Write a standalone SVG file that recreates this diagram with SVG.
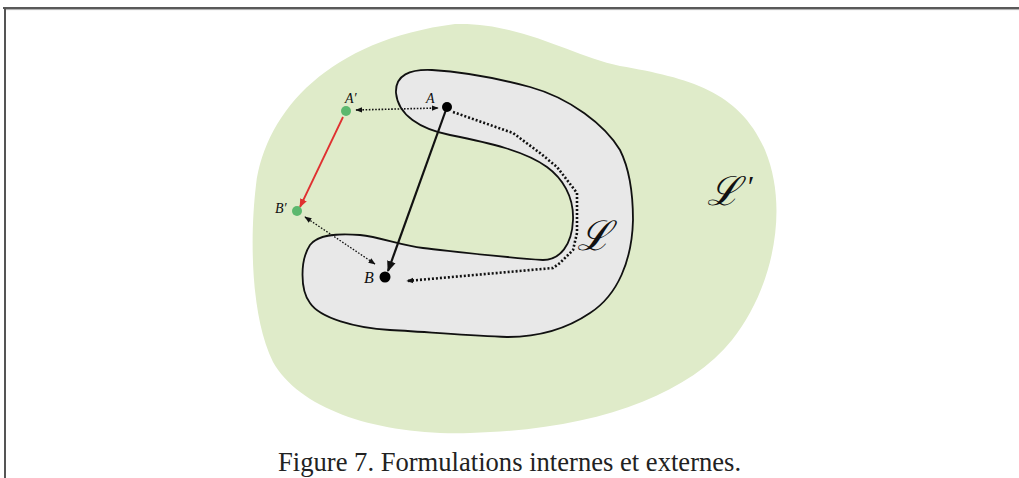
<svg xmlns="http://www.w3.org/2000/svg" width="1019" height="478" viewBox="0 0 1019 478">
<style>
.lbl{font-family:"Liberation Serif","Times New Roman",serif;font-style:italic;fill:#111}
.scr{font-family:"DejaVu Serif",serif;font-style:italic;fill:#111}
.cap{font-family:"Liberation Serif","Times New Roman",serif;fill:#222;font-size:26.6px}
.dot{stroke:#111;fill:none;stroke-dasharray:1.6 1.6}
</style>
<defs>
<marker id="ah" viewBox="0 0 10 10" refX="9" refY="5" markerWidth="7" markerHeight="7" orient="auto-start-reverse" markerUnits="userSpaceOnUse"><path d="M0,1 L10,5 L0,9 Z" fill="#111"/></marker>
<marker id="ahb" viewBox="0 0 10 10" refX="9" refY="5" markerWidth="11" markerHeight="11" orient="auto" markerUnits="userSpaceOnUse"><path d="M0,1 L10,5 L0,9 Z" fill="#111"/></marker>
<marker id="ahr" viewBox="0 0 10 10" refX="9" refY="5" markerWidth="9" markerHeight="9" orient="auto" markerUnits="userSpaceOnUse"><path d="M0,1 L10,5 L0,9 Z" fill="#e03030"/></marker>
</defs>
<rect width="1019" height="478" fill="#fff"/>
<g id="frame">
<line x1="3" y1="8" x2="1019" y2="8" stroke="#222" stroke-width="1.5"/>
<line x1="5" y1="9.6" x2="1019" y2="9.6" stroke="#aaa" stroke-width="1"/>
<line x1="5" y1="8" x2="5" y2="478" stroke="#555" stroke-width="2"/>
</g>
<g id="Lprime">
<path d="M455 24 C520 22 570 55 620 66 C690 78 740 92 765 150 C790 210 772 290 732 340 C685 398 590 430 470 433 C380 436 300 410 273 362 C250 315 250 235 256 185 C266 110 330 40 455 24 Z" fill="#dfebc9"/>
<text class="scr" x="707" y="205" font-size="40">ℒ</text>
<text class="lbl" x="746" y="196" font-size="30">′</text>
</g>
<g id="L">
<path d="M396 93 C395 75 410 69 432 70 C465 72 500 79 530 87 C570 98 605 125 620 150 C630 170 633 195 633 220 C632 260 618 295 590 313 C565 330 535 337 507 337 C470 336 430 332 390 330 C355 328 320 318 310 303 C300 290 300 260 310 245 C318 235 335 233 360 235 C380 237 400 245 423 248 C460 252 500 257 543 260 C560 260 572 245 573 220 C574 196 562 178 547 167 C525 151 490 143 450 135 C420 129 398 115 396 93 Z" fill="#e8e8e8" stroke="#111" stroke-width="1.8"/>
<text class="scr" x="577" y="250" font-size="41">ℒ</text>
</g>
<g id="connectors">
<line x1="447" y1="107" x2="388" y2="271" stroke="#111" stroke-width="2.2" marker-end="url(#ahb)"/>
<polyline points="453,112 513,133 540,153 557,167 577,193 577,233 573,250 560,263 553,268 407,281" fill="none" stroke="#111" stroke-width="2.6" stroke-dasharray="2 2" marker-end="url(#ah)"/>
<line x1="356" y1="110" x2="438" y2="108" class="dot" stroke-width="1.6" marker-start="url(#ah)" marker-end="url(#ah)"/>
<line x1="305" y1="217" x2="375" y2="264" class="dot" stroke-width="1.3" marker-start="url(#ah)" marker-end="url(#ah)"/>
<line x1="343" y1="117" x2="300" y2="207" stroke="#e03030" stroke-width="1.8" marker-end="url(#ahr)"/>
</g>
<g id="A"><circle cx="447" cy="107" r="5" fill="#000"/><text class="lbl" x="426" y="103" font-size="14">A</text></g>
<g id="B"><circle cx="385" cy="277" r="5.5" fill="#000"/><text class="lbl" x="364" y="283" font-size="16">B</text></g>
<g id="Aprime"><circle cx="346" cy="111" r="5" fill="#5cb86e"/><text class="lbl" x="345" y="103" font-size="14">A′</text></g>
<g id="Bprime"><circle cx="297" cy="211" r="5" fill="#5cb86e"/><text class="lbl" x="275" y="213" font-size="14">B′</text></g>
<g id="caption"><text class="cap" x="278" y="471">Figure 7. Formulations internes et externes.</text></g>
</svg>
